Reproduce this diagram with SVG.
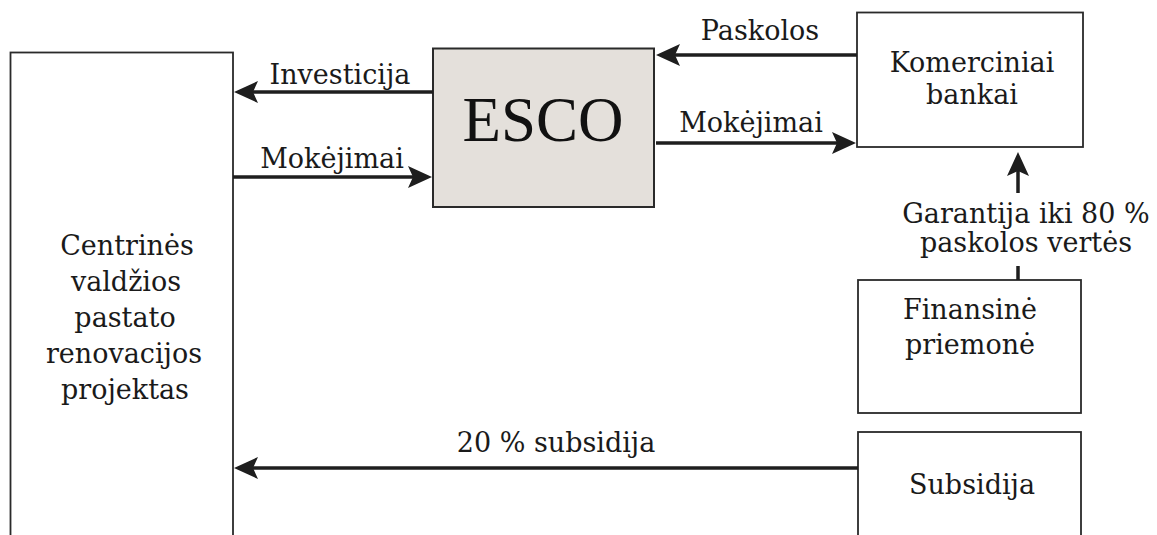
<svg xmlns="http://www.w3.org/2000/svg" width="1157" height="535" viewBox="0 0 1157 535">
<style>
.box{fill:#fff;stroke:#2a2a2a;stroke-width:1.8}
.esco{fill:#e4e0db;stroke:#2a2a2a;stroke-width:2}
.t{font-family:"DejaVu Serif","Liberation Serif",serif;font-size:27px;fill:#1a1a1a;text-anchor:middle}
.lt{font-size:27px}
.big{font-family:"Liberation Serif","Times New Roman",serif;font-size:63px;fill:#111;text-anchor:middle}
.c{stroke:#1e1e1e;stroke-width:3.5;fill:none}
</style>
<defs>
<marker id="ah" viewBox="0 0 24 22" markerUnits="userSpaceOnUse" markerWidth="24" markerHeight="22" refX="19" refY="11" orient="auto">
<path d="M0,0 L24,11 L0,22 L5,11 z" fill="#1e1e1e"/>
</marker>
</defs>
<rect width="1157" height="535" fill="#fff"/>
<g id="projektas">
<rect class="box" x="10.5" y="52.5" width="222.5" height="500"/>
<text class="t lt" x="127" y="255">Centrinės</text>
<text class="t lt" x="126" y="291">valdžios</text>
<text class="t lt" x="125" y="327">pastato</text>
<text class="t lt" x="124" y="363">renovacijos</text>
<text class="t lt" x="125" y="399">projektas</text>
</g>
<g id="esco">
<rect class="esco" x="433" y="48.5" width="221" height="158.5"/>
<text class="big" x="543" y="141">ESCO</text>
</g>
<g id="bankai">
<rect class="box" x="857" y="12.5" width="226" height="134.5"/>
<text class="t" x="972" y="72">Komerciniai</text>
<text class="t" x="972" y="104">bankai</text>
</g>
<g id="finansine">
<rect class="box" x="858" y="280" width="223" height="133"/>
<text class="t" x="970" y="319">Finansinė</text>
<text class="t" x="970" y="354">priemonė</text>
</g>
<g id="subsidija">
<rect class="box" x="858" y="432" width="223" height="120"/>
<text class="t" x="972" y="494">Subsidija</text>
</g>
<g id="connectors">
<line class="c" x1="433" y1="92" x2="239" y2="92" marker-end="url(#ah)"/>
<line class="c" x1="233" y1="177" x2="427" y2="177" marker-end="url(#ah)"/>
<line class="c" x1="857" y1="55" x2="661" y2="55" marker-end="url(#ah)"/>
<line class="c" x1="656" y1="143" x2="851" y2="143" marker-end="url(#ah)"/>
<line class="c" x1="1018" y1="193" x2="1018" y2="157" marker-end="url(#ah)"/>
<line class="c" x1="1018" y1="266" x2="1018" y2="280"/>
<line class="c" x1="858" y1="468" x2="239" y2="468" marker-end="url(#ah)"/>
<text class="t" x="340" y="84">Investicija</text>
<text class="t" x="332" y="168">Mokėjimai</text>
<text class="t" x="760" y="40">Paskolos</text>
<text class="t" x="751" y="132">Mokėjimai</text>
<text class="t" x="1026" y="223">Garantija iki 80 %</text>
<text class="t" x="1026" y="252">paskolos vertės</text>
<text class="t" x="556" y="452">20 % subsidija</text>
</g>
</svg>
